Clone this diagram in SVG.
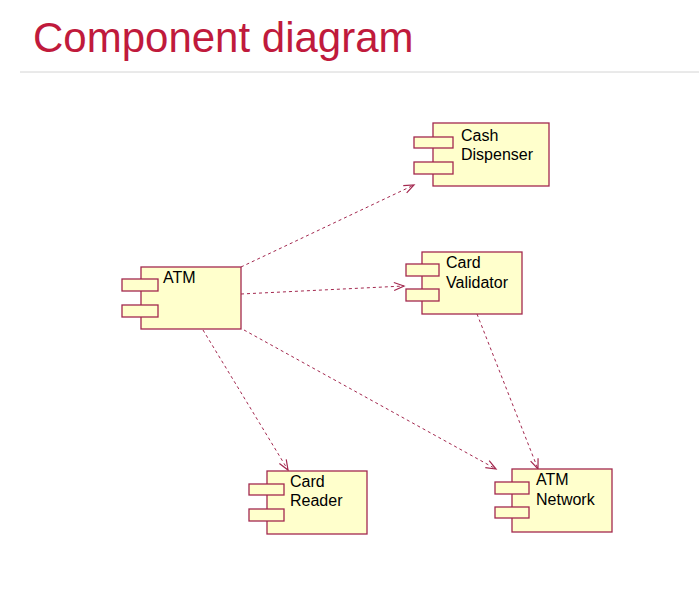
<svg xmlns="http://www.w3.org/2000/svg" width="699" height="593" viewBox="0 0 699 593">
<style>
.box{fill:#ffffcc;stroke:#a3284f;stroke-width:1.3}
.lbl{font-family:"Liberation Sans",Arial,sans-serif;font-size:16px;fill:#000}
.dep{fill:none;stroke:#a3284f;stroke-width:1;stroke-dasharray:3,3}
.title{font-family:"Liberation Sans",Arial,sans-serif;font-size:42px;fill:#c01a3c}
</style>
<defs>
<marker id="open" markerUnits="userSpaceOnUse" markerWidth="14" markerHeight="12" refX="11" refY="5" orient="auto">
<path d="M1,1 L11,5 L1,9" fill="none" stroke="#a3284f" stroke-width="1.2"/>
</marker>
</defs>
<rect width="699" height="593" fill="#ffffff"/>
<text class="title" x="33" y="52">Component diagram</text>
<line x1="20" y1="72" x2="699" y2="72" stroke="#d4d4d4" stroke-width="1"/>
<g id="connectors">
<line class="dep" x1="241" y1="267" x2="414" y2="185" marker-end="url(#open)"/>
<line class="dep" x1="241" y1="294" x2="404" y2="286" marker-end="url(#open)"/>
<line class="dep" x1="203" y1="330" x2="288" y2="470" marker-end="url(#open)"/>
<line class="dep" x1="244" y1="330" x2="496" y2="469" marker-end="url(#open)"/>
<line class="dep" x1="477" y1="314" x2="538" y2="469" marker-end="url(#open)"/>
</g>
<g id="atm">
<rect class="box" x="141" y="267" width="100" height="62"/>
<rect class="box" x="122" y="279" width="36" height="12"/>
<rect class="box" x="122" y="305" width="36" height="12"/>
<text class="lbl" x="163" y="283">ATM</text>
</g>
<g id="cash-dispenser">
<rect class="box" x="433" y="123" width="116" height="63"/>
<rect class="box" x="414" y="137" width="39" height="11"/>
<rect class="box" x="414" y="162" width="39" height="12"/>
<text class="lbl" x="461" y="141">Cash</text>
<text class="lbl" x="461" y="160">Dispenser</text>
</g>
<g id="card-validator">
<rect class="box" x="422" y="252" width="100" height="62"/>
<rect class="box" x="406" y="264" width="33" height="12"/>
<rect class="box" x="406" y="289" width="33" height="12"/>
<text class="lbl" x="446" y="268">Card</text>
<text class="lbl" x="446" y="288">Validator</text>
</g>
<g id="card-reader">
<rect class="box" x="267" y="471" width="100" height="63"/>
<rect class="box" x="249" y="484" width="35" height="11"/>
<rect class="box" x="249" y="509" width="35" height="12"/>
<text class="lbl" x="290" y="487">Card</text>
<text class="lbl" x="290" y="506">Reader</text>
</g>
<g id="atm-network">
<rect class="box" x="512" y="469" width="100" height="63"/>
<rect class="box" x="495" y="482" width="34" height="12"/>
<rect class="box" x="495" y="507" width="34" height="11"/>
<text class="lbl" x="536" y="485">ATM</text>
<text class="lbl" x="536" y="505">Network</text>
</g>
</svg>
